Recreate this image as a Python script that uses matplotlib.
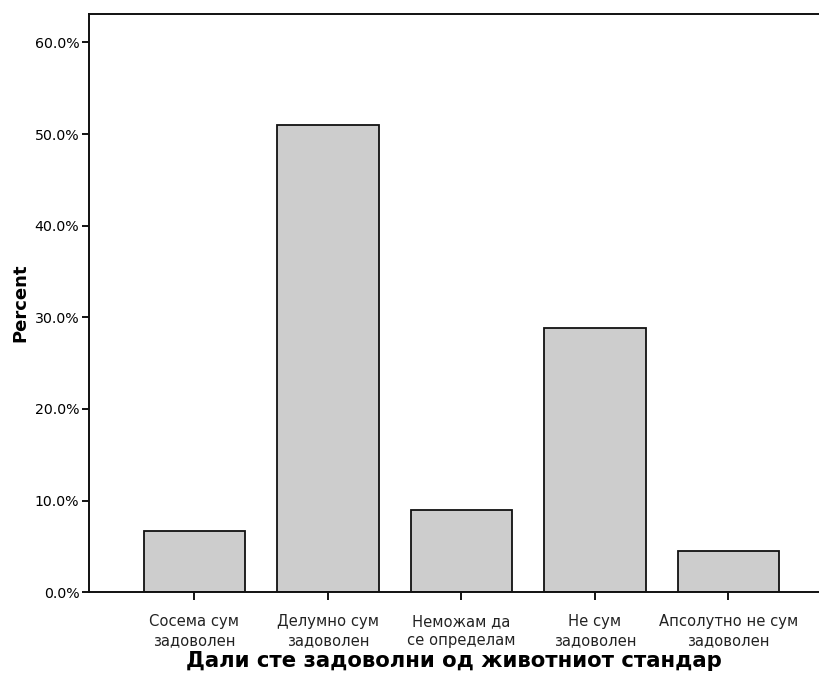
import matplotlib
matplotlib.use('agg')
import matplotlib.pyplot as plt
from matplotlib.ticker import FuncFormatter

# survey answers and share of respondents (%)
categories = ['Сосема сум\nзадоволен', 'Делумно сум\nзадоволен', 'Неможам да\nсе определам',
              'Не сум\nзадоволен', 'Апсолутно не сум\nзадоволен']
percent = [6.7, 51.0, 9.0, 28.8, 4.5]
y_ticks = [0, 10, 20, 30, 40, 50, 60]

plt.rcParams['font.family'] = ['DejaVu Sans']

fig = plt.figure(figsize=(8.19, 6.89), dpi=100)
ax = fig.add_axes([0.1087, 0.1404, 0.8913, 0.8393])

x = range(len(categories))
ax.bar(x, percent, width=0.76, color='#cdcdcd', edgecolor='#111111', linewidth=1.3)

ax.set_xlim(-0.79, 4.68)
ax.set_ylim(0, 63.1)
ax.set_yticks(y_ticks)
ax.yaxis.set_major_formatter(FuncFormatter(lambda v, _: '%.1f%%' % v))
ax.set_xticks(list(x))
ax.set_xticklabels(categories, fontsize=10.6, color='#222222', linespacing=1.3)
ax.tick_params(axis='y', labelsize=10.2, direction='out', length=5, width=1.3, pad=2)
ax.tick_params(axis='x', direction='out', length=6, width=1.3, pad=10)

for side in ['left', 'bottom', 'top']:
    ax.spines[side].set_linewidth(1.4)
    ax.spines[side].set_color('#111111')
ax.spines['right'].set_visible(False)

ax.set_ylabel('Percent', fontsize=13, fontweight='bold', labelpad=4)
ax.set_xlabel('Дали сте задоволни од животниот стандар', fontsize=15.3, fontweight='bold', labelpad=2)

fig.savefig('out.png', dpi=100)
